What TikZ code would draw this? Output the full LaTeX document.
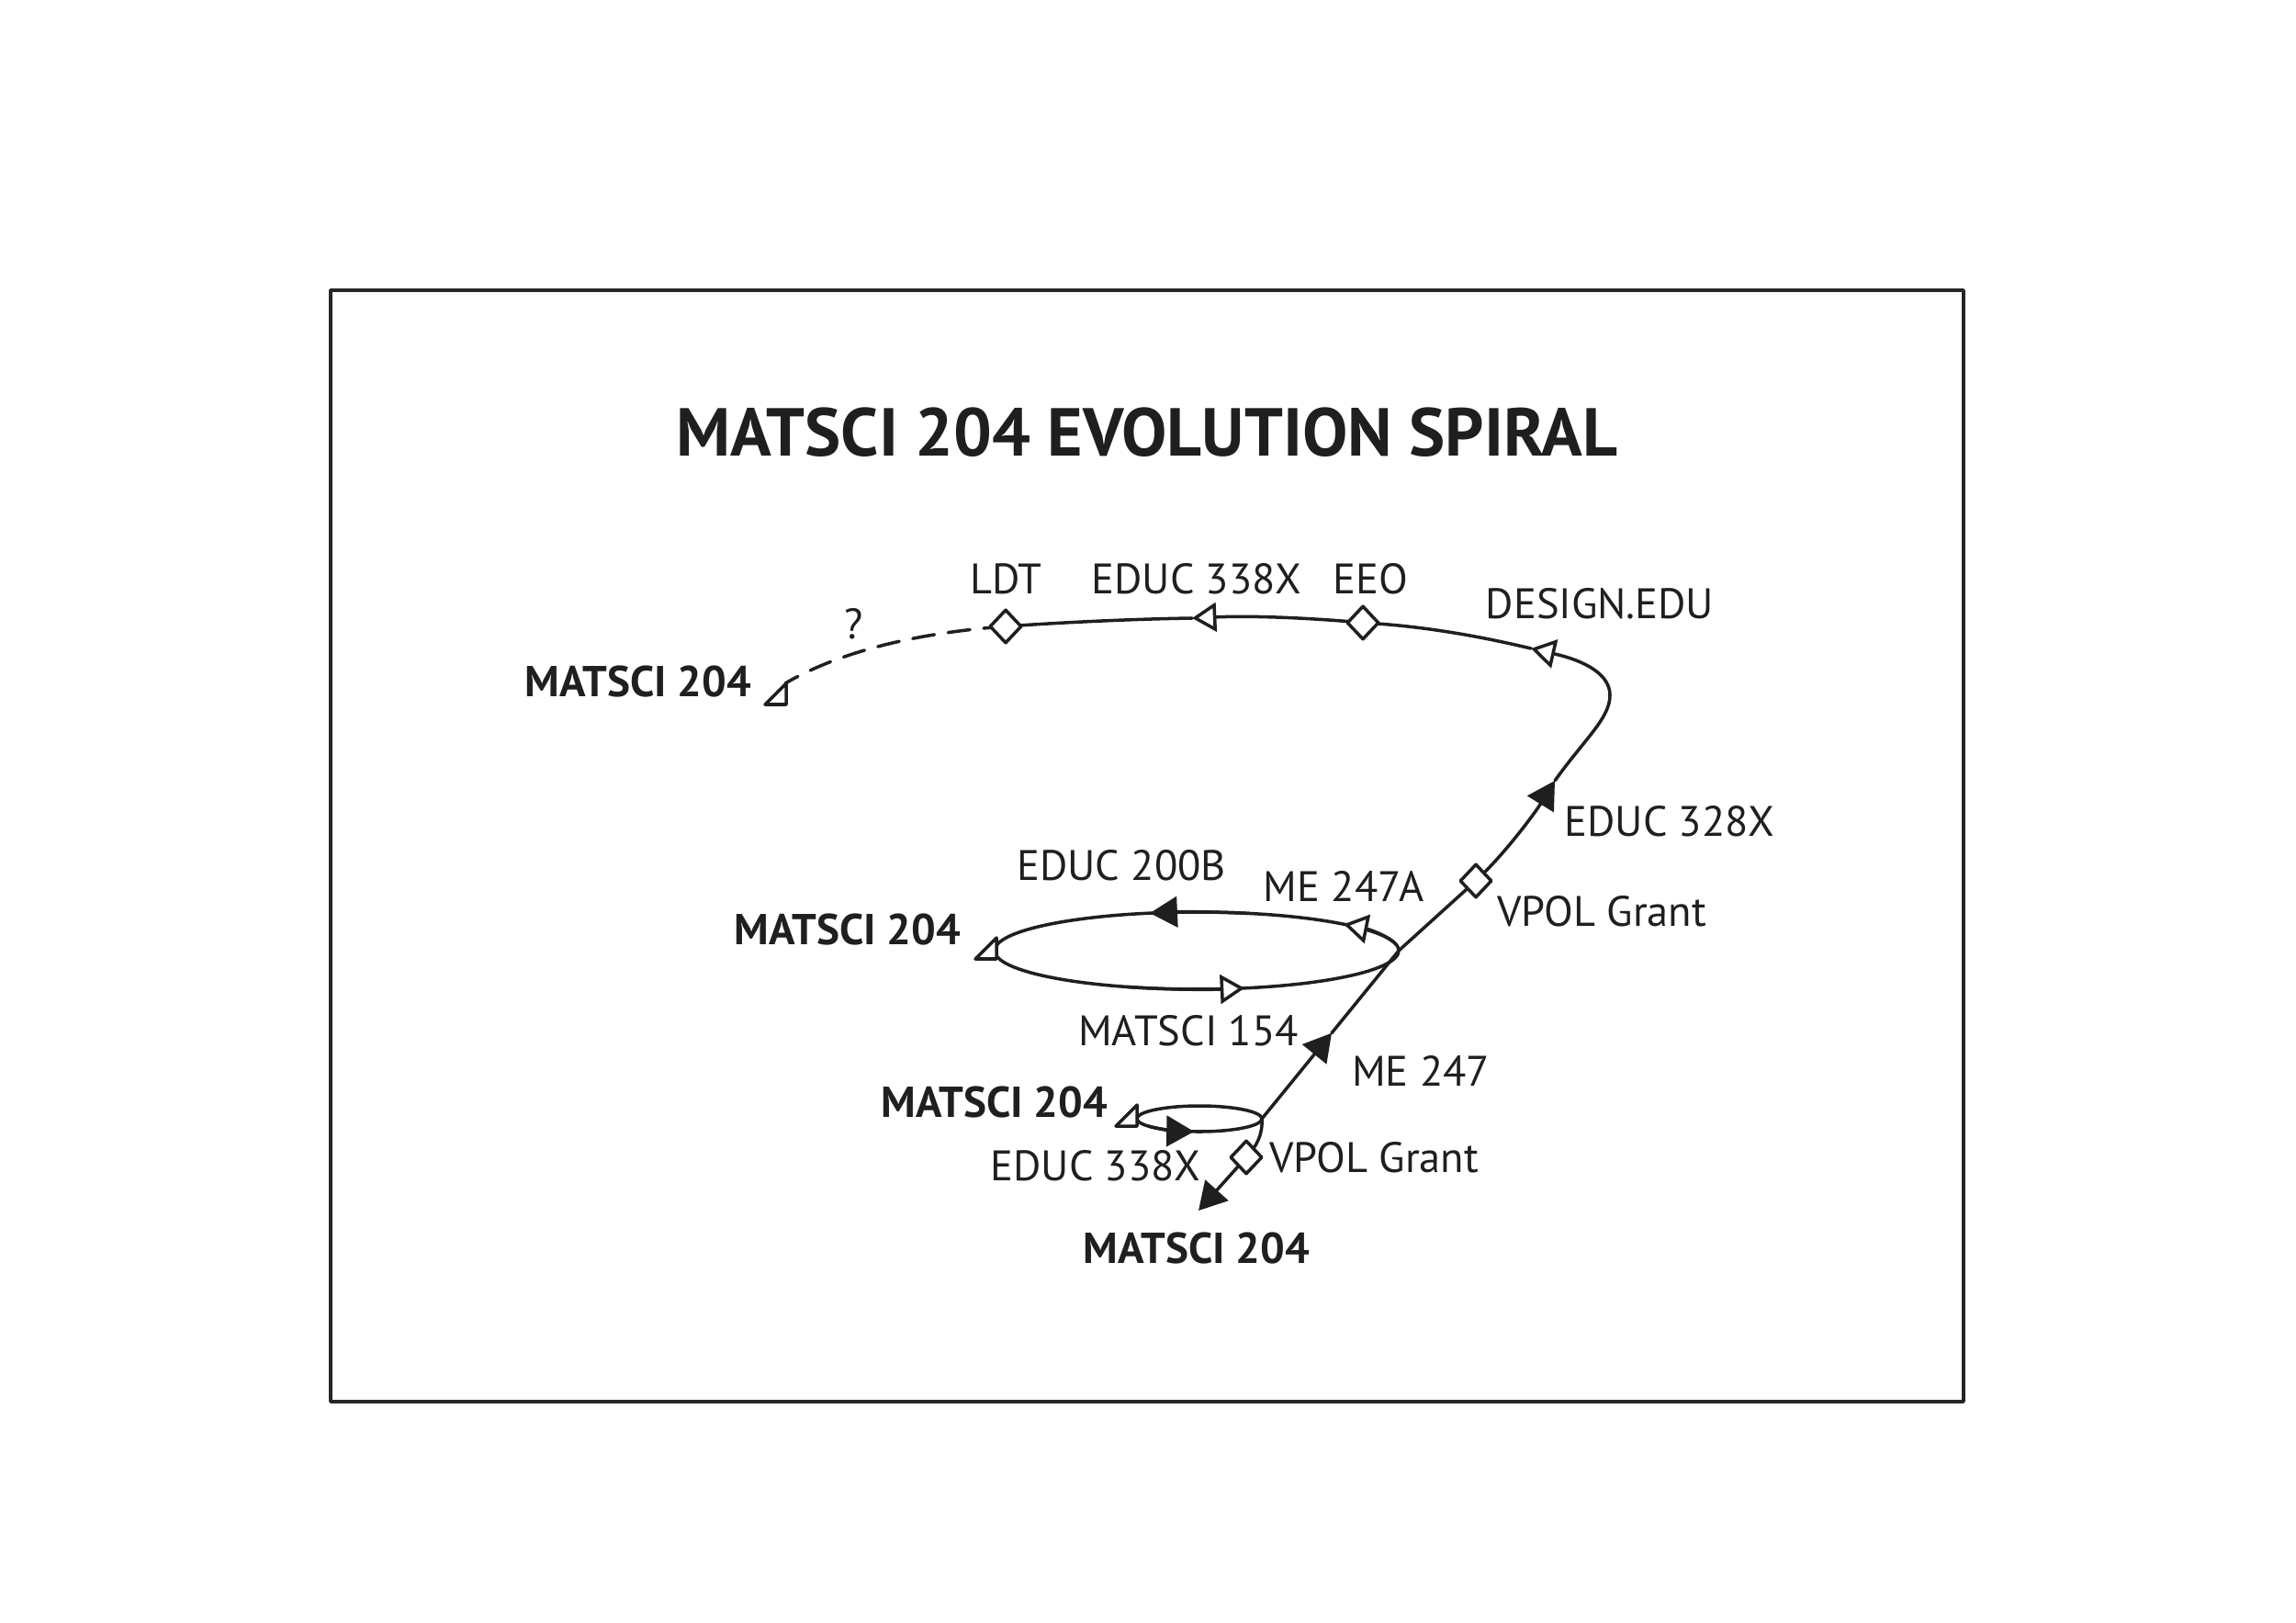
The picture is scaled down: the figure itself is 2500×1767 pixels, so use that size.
\documentclass[tikz,border=0pt]{standalone}
\usepackage{fontspec}
\setmainfont{PT Sans}
\usetikzlibrary{arrows.meta,shapes.geometric,calc}
\providecommand{\spiralInk}{black!88}
\providecommand{\spiralLineWidth}{1pt}
\providecommand{\frameLineWidth}{1pt}
\tikzset{
  lbl/.style={font=\fontsize{13.2}{16}\selectfont, text=\spiralInk, anchor=base, inner sep=0pt},
  boldlbl/.style={lbl, font=\fontsize{13.4}{16}\selectfont\bfseries},
  milestone/.style={diamond, draw=\spiralInk, fill=white, line width=\spiralLineWidth,
    inner sep=0pt, minimum width=0.35cm, minimum height=0.37cm},
  fwdtip/.style={-{Triangle[length=8.5pt,width=9.5pt]}},
  hollowtip/.style={-{Triangle[fill=white,length=7.5pt,width=9pt]}},
  endtip/.pic={\draw[fill=white] (-23,0) -- (0,-23) -- (0,0) -- cycle;}
}
\begin{document}
\begin{tikzpicture}
% 1 unit = 1 pixel of the 2500 x 1767 sheet, y runs downwards
\begin{scope}[x=0.01cm, y=-0.01cm, line cap=round, line join=round]
  \useasboundingbox (0,0) rectangle (2500,1767);
  % Outer frame
  \draw[line width=\frameLineWidth, draw=black!85] (360,316) rectangle (2138,1526);
  % Title
  \node[boldlbl, font=\fontsize{21}{26}\selectfont\bfseries] (title) at (1249,497) {MATSCI 204 EVOLUTION SPIRAL};
  \begin{scope}[draw=\spiralInk, line width=\spiralLineWidth]
    % Points on the spiral
    \coordinate (tailend) at (1305,1318);
    \coordinate (vpollowpt) at (1357,1260);
    \coordinate (jsmall) at (1374,1218);
    \coordinate (jbig) at (1523,1035);
    \coordinate (me247) at ($(jsmall)!0.51!(jbig)$);
    \coordinate (vpoluppt) at (1607,959);
    \coordinate (educ328) at (1693,850);
    \coordinate (turn) at (1753,757);
    \coordinate (design) at (1667,706);
    \coordinate (eeopt) at (1484,678);
    \coordinate (educ338top) at (1298,673);
    \coordinate (ldtpt) at (1095,682);
    \coordinate (dashend) at (855,744);
    \coordinate (bigc) at (1303,1035);
    \coordinate (smallc) at (1306,1218);
    % Spiral
    \draw[fwdtip] (jsmall) .. controls (1375,1236) and (1368,1248) .. (vpollowpt) -- (tailend);
    \draw[fwdtip] (jsmall) -- (me247);
    \draw (me247) -- (jbig) -- (vpoluppt);
    \draw[fwdtip] (vpoluppt) .. controls (1640,928) and (1672,884) .. (educ328);
    \draw[hollowtip] (educ328) .. controls (1725,805) and (1753,782) .. (turn)
      .. controls (1753,735) and (1728,720) .. (design);
    \draw[hollowtip] (design) .. controls (1600,690) and (1540,681) .. (eeopt)
      .. controls (1430,673) and (1365,670) .. (educ338top);
    \draw (educ338top) .. controls (1230,674) and (1150,678) .. (ldtpt);
    \draw[dash pattern=on 0.24cm off 0.15cm] (ldtpt) .. controls (1010,688) and (920,706) .. (dashend);
    \pic at (856,767) {endtip};
    % Big loop
    \draw (bigc) ellipse[x radius=220, y radius=42];
    \draw[hollowtip] ([shift={(-10:220 and 42)}]bigc) arc[start angle=-10, end angle=-43.3, x radius=220, y radius=42];
    \draw[fwdtip] ([shift={(-75:220 and 42)}]bigc) arc[start angle=-75, end angle=-103.4, x radius=220, y radius=42];
    \draw[hollowtip] ([shift={(-250:220 and 42)}]bigc) arc[start angle=-250, end angle=-283.7, x radius=220, y radius=42];
    \pic at (1085,1044) {endtip};
    % Small loop
    \draw (smallc) ellipse[x radius=68, y radius=14];
    \draw[fwdtip] ([shift={(-215:68 and 14)}]smallc) arc[start angle=-215, end angle=-265, x radius=68, y radius=14];
    \pic at (1238,1226) {endtip};
    % Milestones
    \node[milestone] (ldt) at (ldtpt) {};
    \node[milestone] (eeo) at (eeopt) {};
    \node[milestone] (vpolup) at (vpoluppt) {};
    \node[milestone] (vpollow) at (vpollowpt) {};
  \end{scope}
  % Labels
  \node[boldlbl] (labstart) at (695,758) {MATSCI 204};
  \node[lbl] (labquery) at (930,695) {?};
  \node[lbl] (labldt) at (1095,646) {LDT};
  \node[lbl] (labeducA) at (1303,646) {EDUC 338X};
  \node[lbl] (labeeo) at (1492,646) {EEO};
  \node[lbl] (labdesign) at (1742,673) {DESIGN.EDU};
  \node[lbl] (labeducB) at (1818,910) {EDUC 328X};
  \node[lbl] (labvpolA) at (1744,1008) {VPOL Grant};
  \node[lbl] (labeducC) at (1221,958) {EDUC 200B};
  \node[lbl] (labmeA) at (1463,981) {ME 247A};
  \node[boldlbl] (labmid) at (923,1028) {MATSCI 204};
  \node[lbl] (labmatsci) at (1294,1138) {MATSCI 154};
  \node[lbl] (labme) at (1547,1182) {ME 247};
  \node[boldlbl] (lablow) at (1083,1216) {MATSCI 204};
  \node[lbl] (labeducD) at (1193,1285) {EDUC 338X};
  \node[lbl] (labvpolB) at (1496,1276) {VPOL Grant};
  \node[boldlbl] (labend) at (1303,1375) {MATSCI 204};
\end{scope}
\end{tikzpicture}
\end{document}
